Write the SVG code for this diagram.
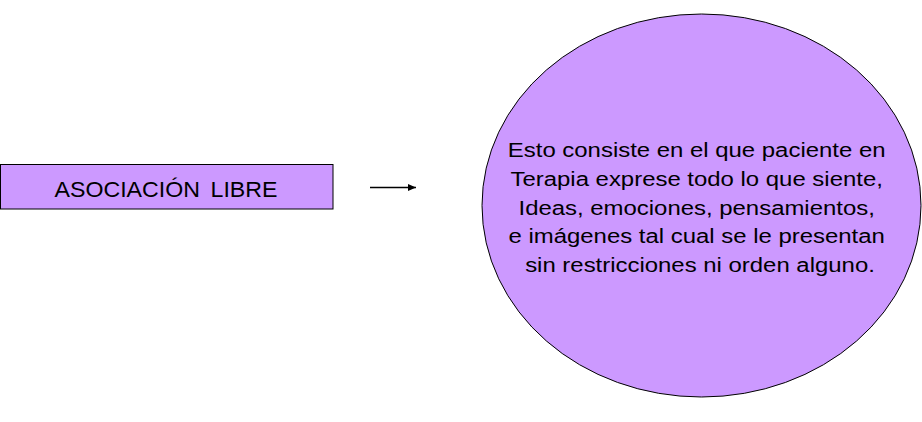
<svg xmlns="http://www.w3.org/2000/svg" width="922" height="422" viewBox="0 0 922 422">
  <defs>
    <style>
      .shape { fill: #CC99FF; stroke: #000000; stroke-width: 1; }
      .label { font-family: "Liberation Sans", Arial, sans-serif; fill: #000000; text-anchor: middle; }
    </style>
    <marker id="arrow" markerWidth="8" markerHeight="7" refX="8" refY="3.5" orient="auto" markerUnits="userSpaceOnUse">
      <path d="M0,0 L8,3.5 L0,7 Z" fill="#000000"/>
    </marker>
  </defs>
  <rect x="0" y="0" width="922" height="422" fill="#FFFFFF"/>
  <g id="node-asociacion">
    <rect class="shape" x="0.5" y="164.5" width="332.5" height="44.5"/>
    <g transform="translate(166,196.5) scale(1.03,1)">
      <text class="label" x="0" y="0" font-size="22.5" word-spacing="4">ASOCIACIÓN LIBRE</text>
    </g>
  </g>
  <g id="connectors">
    <line x1="370" y1="187.5" x2="416" y2="187.5" stroke="#000000" stroke-width="1.3" marker-end="url(#arrow)"/>
  </g>
  <g id="node-definicion">
    <ellipse class="shape" cx="701.5" cy="205.5" rx="219.5" ry="191.5"/>
    <g transform="translate(700,0) scale(1.14,1)">
      <text class="label" font-size="21">
        <tspan x="0" y="157.5">Esto consiste en el que paciente en</tspan>
        <tspan x="0" y="186.5">Terapia exprese todo lo que siente,</tspan>
        <tspan x="0" y="215">Ideas, emociones, pensamientos,</tspan>
        <tspan x="0" y="243.5">e imágenes tal cual se le presentan</tspan>
        <tspan x="0" y="272">sin restricciones ni orden alguno.</tspan>
      </text>
    </g>
  </g>
</svg>
